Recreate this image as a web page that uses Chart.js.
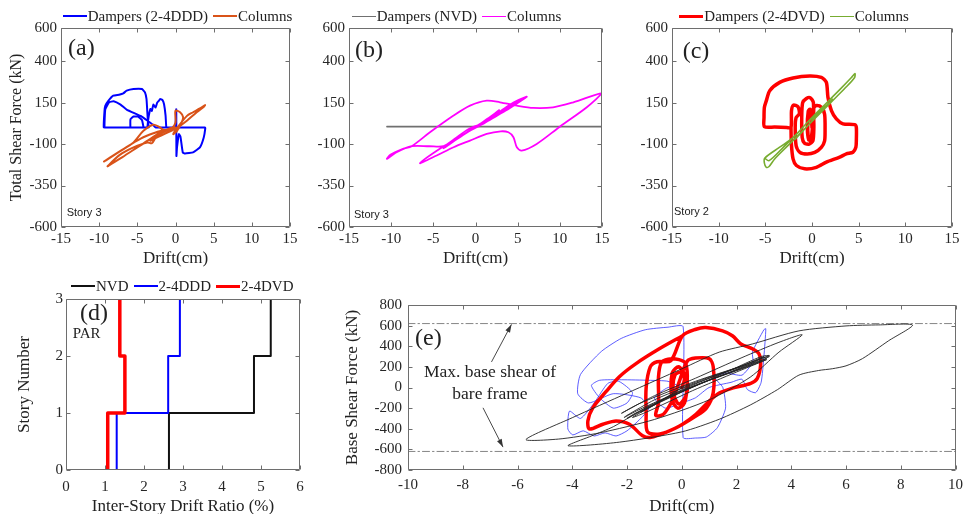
<!DOCTYPE html>
<html><head><meta charset="utf-8">
<script src="https://cdn.jsdelivr.net/npm/chart.js@4.4.1/dist/chart.umd.min.js"></script>
<style>
html,body{margin:0;padding:0;background:#fff;width:970px;height:514px;overflow:hidden;position:relative;}
canvas{position:absolute;}
.t{position:absolute;white-space:nowrap;color:#222;font-family:'Liberation Serif',serif;}
.legend{position:absolute;display:flex;align-items:center;font-family:'Liberation Serif',serif;font-size:15px;color:#222;height:20px;white-space:nowrap;}
.legend .item{display:flex;align-items:center;margin-right:5px;}
.legend .sw{display:inline-block;width:24px;height:0;margin-right:1px;}
</style></head><body>
<canvas id="ca" width="302" height="252" style="left:0px;top:15px"></canvas>
<canvas id="cb" width="305" height="252" style="left:309px;top:15px"></canvas>
<canvas id="cc" width="332" height="252" style="left:632px;top:15px"></canvas>
<canvas id="cd" width="312" height="228" style="left:0px;top:287px"></canvas>
<canvas id="ce" width="629" height="225" style="left:340px;top:290px"></canvas>
<script>
// ---------------- DATA ----------------
// Panels (a)-(c): drift (cm) vs total shear force (kN)
const driftTicksABC = [-15, -10, -5, 0, 5, 10, 15];
const forceTicksABC = [-600, -350, -100, 150, 400, 600];

// (a) Story 3 — Dampers (2-4DDD) and Columns
const aDampers = [[0,0],[0.05,60],[0.1,110],[0.12,-172],[0.2,-119],[0.45,-40],[0.65,-55],[0.95,-150],[1.25,-157],[2.3,-150],[3.2,-120],[3.7,-60],[3.9,-5],[3.85,0],[3.5,0],[-1.0,0],[-1.2,0],[-1.3,72],[-1.5,140],[-1.7,165],[-2.0,172],[-2.2,160],[-2.4,150],[-2.6,120],[-2.9,138],[-3.1,100],[-3.3,112],[-3.5,70],[-3.6,38],[-3.7,0],[-4.0,0],[-5.7,0],[-5.9,0],[-5.9,50],[-5.5,66],[-4.9,66],[-4.4,45],[-4.2,0],[-4.5,0],[-9.1,0],[-9.4,0],[-9.3,100],[-9.2,131],[-8.8,161],[-8.15,192],[-7.4,198],[-6.84,206],[-6.4,222],[-5.5,232],[-4.4,232],[-4.0,212],[-3.8,172],[-3.7,100],[-3.6,30],[-3.5,0],[-3.8,0],[-9.0,0],[-9.3,0],[-9.2,110],[-8.7,152],[-8.1,158],[-7.2,138],[-6.4,108],[-4.5,68],[-3.6,38],[-3.0,18],[-2.6,0],[-2.3,0],[0,0]];
const aColumns = [[0,0],[-1.2,-20],[-2.5,-55],[-3.1,-95],[-3.7,-90],[-5.5,-120],[-7.3,-165],[-8.9,-234],[-8.6,-225],[-7,-180],[-5,-120],[-3,-60],[-1.8,-20],[-2.6,-30],[-4.5,-65],[-7,-135],[-9.37,-205],[-9.1,-198],[-7.5,-150],[-5.5,-90],[-4.2,-20],[-2.9,17],[-2.2,5],[-1.5,-15],[-0.5,-5],[0,30],[0,101],[0.6,92],[1.0,62],[0.8,30],[0.2,-20],[-0.3,-40],[0.1,-10],[1.5,70],[2.3,92],[3.2,115],[3.87,135],[3.6,121],[2.6,85],[1.6,45],[0.6,10],[-1.0,-30],[-2.4,-60],[-3.3,-80],[-2.2,-40],[-0.8,-5],[0,0]];

// (b) Story 3 — Dampers (NVD) and Columns
const bDampers = [[-10.5,5],[15,5]];
const bColumns = [[0,0],[1.5,50],[3,100],[4.5,150],[6.07,186],[5.8,175],[4,115],[2.5,70],[1,25],[-0.5,-15],[-2,-60],[-3.5,-110],[-3.8,-125],[-3.2,-105],[-1.8,-55],[0,5],[1.3,45],[2.5,90],[2.8,105],[2.3,85],[0.8,30],[-1,-30],[-2.5,-80],[-4,-120],[-6.58,-215],[-4.6,-169],[-2.6,-119],[-0.65,-79],[1.33,-39],[3.0,-23],[3.9,-29],[4.5,-59],[4.9,-119],[5.48,-139],[7.26,-99],[10,5],[13.2,122],[14.97,206],[11.6,152],[9.2,122],[6.86,118],[4.9,132],[2.9,152],[1.33,162],[-0.65,132],[-2.6,72],[-5.4,-29],[-7.57,-113],[-8.6,-129],[-10.1,-165],[-10.5,-189],[-9.35,-149],[-7.57,-113],[-5.5,-113],[-3.8,-113],[-2.5,-70],[-1,-15],[0.5,20],[2,60],[3.5,110],[5,155],[5.5,165],[4,125],[1.5,55],[0,0]];

// (c) Story 2 — Dampers (2-4DVD) and Columns
const cDampers = [[0,0],[-0.1,70],[-0.3,90],[-0.45,40],[-0.4,-60],[-0.2,-80],[0,-50],[0.05,60],[-0.2,110],[-0.4,100],[-0.5,0],[-0.35,-75],[-0.1,-70],[0.1,40],[0.15,150],[-0.2,180],[-0.6,175],[-1.0,150],[-1.1,60],[-1.05,-60],[-0.8,-95],[-0.3,-100],[0.1,-80],[0.2,0],[0.2,120],[0.5,132],[1.0,122],[1.35,80],[1.4,-20],[1.35,-80],[1.0,-120],[0.3,-150],[-0.5,-160],[-1.3,-150],[-1.7,-110],[-1.8,0],[-1.7,60],[-1.35,82],[-1.5,125],[-2.0,135],[-2.2,100],[-2.25,0],[-2.7,0],[-4,3],[-5.1,5],[-5.14,60],[-5.1,122],[-4.89,162],[-4.53,222],[-3.46,272],[-2.03,299],[-0.25,311],[1.0,302],[1.54,272],[1.71,182],[2.08,102],[2.61,52],[3.32,22],[4.58,17],[4.75,0],[4.75,-79],[4.7,-119],[4.39,-149],[3.68,-159],[2.97,-179],[1.54,-209],[0.47,-240],[-0.78,-249],[-1.67,-229],[-2.03,-189],[-2.21,-99],[-2.25,0]];
const cColumns = [[-5.07,-185],[-4.6,-200],[-3,-115],[-1.5,-30],[0,60],[1.5,145],[3,230],[4.2,300],[4.6,325],[4.55,300],[3.5,235],[2,150],[0.5,65],[-1,-20],[-2.5,-105],[-4,-190],[-4.6,-235],[-4.9,-240],[-5.1,-215],[-5.07,-185],[-3.5,-120],[-2,-60],[-0.5,30],[1.5,130],[2.2,170],[1.2,110],[-0.3,20],[-1.8,-70],[-0.8,-10],[0.8,90],[0,40]];

// (d) PAR — peak inter-story drift ratio (%) per story
const storyLevels = [0, 1, 2, 3];
const driftNVD = [2.64, 4.82, 5.25];
const driftDDD = [1.30, 2.62, 2.92];
const driftDVD = [1.07, 1.51, 1.38];
const dDriftTicks = [0, 1, 2, 3, 4, 5, 6];
const dStoryTicks = [0, 1, 2, 3];

// (e) Base shear force (kN) vs roof drift (cm)
const eDriftTicks = [-10, -8, -6, -4, -2, 0, 2, 4, 6, 8, 10];
const eForceTicks = [-800, -600, -400, -200, 0, 200, 400, 600, 800];
const maxBaseShearBare = 620;
const eNVD = [[0,0],[1,100],[2,190],[3,290],[3.2,300],[2.9,265],[1.5,140],[0,-10],[-1,-120],[-2,-270],[-2.1,-290],[-1.6,-220],[0,-30],[1.5,120],[2.8,250],[3.1,280],[2.6,225],[0.8,50],[-0.8,-140],[-1.8,-290],[-1.3,-240],[0.4,-30],[2,150],[3.1,270],[2.4,200],[0.5,20],[-1.2,-180],[-2.5,-380],[-3.3,-470],[-4.15,-565],[-2.28,-530],[0,-430],[1.37,-308],[2.5,-170],[3.5,-20],[4.28,120],[5.0,165],[5.5,182],[6.0,210],[6.6,280],[7.56,454],[8.43,605],[7.2,607],[6.0,597],[4.28,549],[2.58,422],[1.37,343],[0,181],[-2,-55],[-4,-293],[-5.69,-504],[-4.5,-500],[-3,-440],[-1,-310],[1,-120],[2.5,100],[3.55,343],[4.4,511],[3.55,438],[2.2,290],[0.5,90],[-1,-80],[-2.2,-250],[-1.5,-150],[0.5,60],[2.2,210],[3.0,300],[2.6,240],[1,70],[-0.5,-100],[-1.7,-250],[-2.0,-300],[-1.4,-220],[0.2,-20],[1.8,170],[2.9,300],[3.2,310],[2.7,260],[1.2,110],[-0.3,-60],[-1.5,-240],[-1.0,-170],[0,0]];
const eDDD = [[0,0],[-0.5,60],[-1.2,70],[-2.2,75],[-3.0,70],[-3.3,20],[-3.0,-100],[-2.5,-200],[-2.0,-150],[-1.8,-50],[-2.3,60],[-2.7,40],[-3.2,-150],[-3.7,-300],[-4.1,-229],[-4.16,-403],[-3.98,-460],[-3.6,-420],[-3.2,-470],[-2.8,-440],[-2.4,-470],[-2.0,-420],[-1.5,-300],[-1.2,-200],[-1.5,-100],[-2.5,-60],[-3.4,-150],[-3.8,-60],[-3.7,126],[-2.94,349],[-2.21,476],[-1.33,560],[-0.5,585],[0.05,590],[0.05,-485],[0.5,-490],[0.9,-480],[1.3,-390],[1.6,-200],[1.5,0],[1.2,100],[1.6,140],[2.2,120],[2.6,250],[2.58,343],[3.0,560],[3.07,570],[3.0,300],[2.9,50],[2.7,-50],[2.4,-20],[2.2,80],[1.8,50],[1.0,0],[0.5,-100],[0,-150],[-0.6,-200],[-1,-100],[-0.5,0],[0,0]];
const eDVD = [[0,0],[0.1,80],[0,150],[-0.25,120],[-0.3,-60],[-0.1,-160],[0.15,-80],[0.2,60],[-0.1,200],[-0.35,140],[-0.35,-120],[-0.15,-200],[0.1,-150],[0.2,50],[0.15,230],[-0.1,270],[-0.5,275],[-0.75,240],[-0.85,100],[-0.85,-150],[-0.95,-270],[-0.7,-265],[-0.5,-200],[-0.3,-100],[-0.1,50],[0.2,255],[0.5,285],[1.0,280],[1.15,200],[1.15,-50],[0.9,-200],[0.5,-280],[-0.2,-390],[-0.8,-450],[-1.25,-430],[-1.3,-250],[-1.3,0],[-1.15,200],[-0.9,250],[-0.4,260],[0.03,502],[0.52,565],[0.88,581],[1.49,549],[1.85,502],[2.16,422],[2.58,375],[2.82,327],[2.88,216],[2.76,89],[2.52,41],[1.85,-6],[1.37,-54],[1.0,-133],[0.52,-260],[0.03,-356],[-0.58,-435],[-1.12,-483],[-1.43,-467],[-1.91,-356],[-2.4,-324],[-2.88,-356],[-3.37,-403],[-3.43,-324],[-3.25,-197],[-2.76,-38],[-2.28,105],[-1.67,232],[-0.82,375],[0.03,502]];
// annotation arrows (data coordinates: drift, force)
const eArrows = [{from:[-6.95,248], to:[-6.22,612]}, {from:[-7.26,-197], to:[-6.53,-578]}];

// ---------------- HELPERS ----------------
const pts = arr => arr.map(([x, y]) => ({x, y}));
const stairs = drifts => drifts.flatMap((v, i) => [{x: v, y: storyLevels[i]}, {x: v, y: storyLevels[i + 1]}]);
const SERIF = "'Liberation Serif', 'Times New Roman', serif";

const boxPlugin = {
  id: 'mbox',
  afterDatasetsDraw(chart) {
    const {ctx, chartArea: a, scales} = chart;
    const L = Math.round(a.left) + 0.5, R = Math.round(a.right) - 0.5, T = Math.round(a.top) + 0.5, B = Math.round(a.bottom) - 0.5;
    ctx.save();
    ctx.strokeStyle = '#6e6e6e';
    ctx.lineWidth = 1;
    ctx.beginPath();
    ctx.rect(L, T, R - L, B - T);
    const tl = 4;
    scales.x.ticks.forEach(t => {
      const px = Math.round(scales.x.getPixelForValue(t.value)) + 0.5;
      ctx.moveTo(px, B); ctx.lineTo(px, B - tl);
      ctx.moveTo(px, T); ctx.lineTo(px, T + tl);
    });
    scales.y.ticks.forEach(t => {
      const py = Math.round(scales.y.getPixelForValue(t.value)) + 0.5;
      ctx.moveTo(L, py); ctx.lineTo(L + tl, py);
      ctx.moveTo(R, py); ctx.lineTo(R - tl, py);
    });
    ctx.stroke();
    ctx.restore();
  }
};

function arrowPlugin(items) {
  return {
    id: 'arrows',
    afterDatasetsDraw(chart) {
      const {ctx, scales: {x, y}} = chart;
      ctx.save();
      ctx.strokeStyle = '#333'; ctx.fillStyle = '#333'; ctx.lineWidth = 0.9;
      items.forEach(a => {
        const x1 = x.getPixelForValue(a.from[0]), y1 = y.getPixelForValue(a.from[1]);
        const x2 = x.getPixelForValue(a.to[0]), y2 = y.getPixelForValue(a.to[1]);
        ctx.beginPath(); ctx.moveTo(x1, y1); ctx.lineTo(x2, y2); ctx.stroke();
        const ang = Math.atan2(y2 - y1, x2 - x1), h = 8, w = 2.6;
        ctx.beginPath(); ctx.moveTo(x2, y2);
        ctx.lineTo(x2 - h * Math.cos(ang) + w * Math.sin(ang), y2 - h * Math.sin(ang) - w * Math.cos(ang));
        ctx.lineTo(x2 - h * Math.cos(ang) - w * Math.sin(ang), y2 - h * Math.sin(ang) + w * Math.cos(ang));
        ctx.closePath(); ctx.fill();
      });
      ctx.restore();
    }
  };
}

function makeChart(id, c) {
  const plugins = [boxPlugin];
  if (c.arrows) plugins.push(arrowPlugin(c.arrows));
  return new Chart(document.getElementById(id), {
    type: 'scatter',
    data: {datasets: c.datasets},
    options: {
      responsive: false, animation: false, events: [],
      layout: {padding: {top: 12, right: 12, bottom: 0, left: 0}},
      plugins: {legend: {display: false}, tooltip: {enabled: false}},
      elements: {point: {radius: 0, hoverRadius: 0}, line: {borderCapStyle: 'round', borderJoinStyle: 'round'}},
      scales: {
        x: {
          type: 'linear', min: c.xr[0], max: c.xr[1],
          grid: {display: false, drawTicks: false}, border: {display: false},
          afterBuildTicks: s => { s.ticks = c.xTicks.map(v => ({value: v})); },
          afterFit: s => { s.height = c.xH; },
          ticks: {autoSkip: false, maxRotation: 0, minRotation: 0, padding: c.xPad, color: '#262626',
                  font: {family: SERIF, size: 15}, callback: v => String(v)},
          title: {display: !!c.xTitle, text: c.xTitle || '', color: '#222',
                  font: {family: SERIF, size: 17, lineHeight: 1}, padding: {top: 0, bottom: 0}}
        },
        y: {
          type: 'linear', min: c.yr[0], max: c.yr[1],
          grid: {display: false, drawTicks: false}, border: {display: false},
          afterBuildTicks: s => { s.ticks = c.yTicks.map(v => ({value: v})); },
          afterFit: s => { s.width = c.yW; },
          ticks: {autoSkip: false, padding: c.yPad, color: '#262626',
                  font: {family: SERIF, size: 15}, callback: v => String(v)},
          title: {display: !!c.yTitle, text: c.yTitle || '', color: '#222',
                  font: {family: SERIF, size: c.yTitleSize || 17, lineHeight: 1}, padding: {top: c.yTitlePad || 0, bottom: 0}}
        }
      }
    },
    plugins
  });
}

const line = (label, data, color, width, order, tension, extra) => Object.assign({
  label, data, borderColor: color, backgroundColor: color, borderWidth: width,
  showLine: true, pointRadius: 0, tension, order, fill: false
}, extra || {});

// ---------------- CHARTS ----------------
const chA = makeChart('ca', {
  datasets: [line('Dampers (2-4DDD)', pts(aDampers), '#0000ff', 2, 1, 0.12),
             line('Columns', pts(aColumns), '#d95319', 2, 0, 0.3)],
  xr: [-15, 15], yr: [-600, 600], xTicks: driftTicksABC, yTicks: forceTicksABC,
  yW: 61, xH: 40, xPad: 3.5, yPad: 4, xTitle: 'Drift(cm)', yTitle: 'Total Shear Force (kN)', yTitleSize: 16, yTitlePad: 9
});
const chB = makeChart('cb', {
  datasets: [line('Dampers (NVD)', pts(bDampers), '#707070', 1.6, 1, 0),
             line('Columns', pts(bColumns), '#ff00ff', 1.8, 0, 0.3)],
  xr: [-15, 15], yr: [-600, 600], xTicks: driftTicksABC, yTicks: forceTicksABC,
  yW: 40, xH: 40, xPad: 3.5, yPad: 4, xTitle: 'Drift(cm)'
});
const chC = makeChart('cc', {
  datasets: [line('Dampers (2-4DVD)', pts(cDampers), '#ff0000', 3.5, 1, 0.25),
             line('Columns', pts(cColumns), '#77ac30', 1.6, 0, 0.3)],
  xr: [-15, 15], yr: [-600, 600], xTicks: driftTicksABC, yTicks: forceTicksABC,
  yW: 40, xH: 40, xPad: 3.5, yPad: 4, xTitle: 'Drift(cm)'
});
const chD = makeChart('cd', {
  datasets: [line('NVD', stairs(driftNVD), '#111111', 2, 2, 0),
             line('2-4DDD', stairs(driftDDD), '#0000ff', 2, 1, 0),
             line('2-4DVD', stairs(driftDVD), '#ff0000', 3.5, 0, 0)],
  xr: [0, 6], yr: [0, 3], xTicks: dDriftTicks, yTicks: dStoryTicks,
  yW: 66, xH: 45, xPad: 7.7, yPad: 3, xTitle: 'Inter-Story Drift Ratio (%)', yTitle: 'Story Number', yTitlePad: 16.5
});
const chE = makeChart('ce', {
  datasets: [line('NVD', pts(eNVD), '#222222', 0.9, 0, 0.25),
             line('2-4DVD', pts(eDVD), '#ff0000', 3.5, 1, 0.3),
             line('2-4DDD', pts(eDDD), '#3535ff', 0.8, 2, 0.2),
             line('Max. base shear (+)', [{x: -10, y: maxBaseShearBare}, {x: 10, y: maxBaseShearBare}], '#777777', 0.9, 3, 0, {borderDash: [7, 3, 1.5, 3], noLegend: true}),
             line('Max. base shear (-)', [{x: -10, y: -maxBaseShearBare}, {x: 10, y: -maxBaseShearBare}], '#777777', 0.9, 3, 0, {borderDash: [7, 3, 1.5, 3], noLegend: true})],
  xr: [-10, 10], yr: [-800, 800], xTicks: eDriftTicks, yTicks: eForceTicks,
  yW: 68, xH: 45, xPad: 6, yPad: 6, xTitle: 'Drift(cm)', yTitle: 'Base Shear Force (kN)', yTitlePad: 4.2,
  arrows: eArrows
});

// ---------------- HTML legends & labels ----------------
function htmlLegend(chart, left, cy) {
  const div = document.createElement('div');
  div.className = 'legend';
  div.style.left = left + 'px';
  div.style.top = (cy - 10) + 'px';
  chart.data.datasets.filter(d => !d.noLegend).forEach(d => {
    const item = document.createElement('span'); item.className = 'item';
    const sw = document.createElement('span'); sw.className = 'sw';
    sw.style.borderTop = d.borderWidth + 'px solid ' + d.borderColor;
    const tx = document.createElement('span'); tx.textContent = d.label;
    item.appendChild(sw); item.appendChild(tx); div.appendChild(item);
  });
  document.body.appendChild(div);
}
htmlLegend(chA, 62.7, 16.2);
htmlLegend(chB, 351.7, 16.5);
htmlLegend(chC, 679.3, 16);
htmlLegend(chD, 71, 286.2);

function label(text, left, cy, size, family, extra) {
  const d = document.createElement('div');
  d.className = 't';
  d.textContent = text;
  d.style.left = left + 'px';
  d.style.fontSize = size + 'px';
  d.style.lineHeight = (size * 1.2) + 'px';
  d.style.top = (cy - size * 0.64) + 'px';
  if (family) d.style.fontFamily = family;
  if (extra) Object.assign(d.style, extra);
  document.body.appendChild(d);
  return d;
}
const SANS = "'Liberation Sans', Arial, sans-serif";
label('(a)', 68, 48, 24);
label('(b)', 355, 50, 24);
label('(c)', 682.7, 51, 24);
label('(d)', 80, 313.3, 24);
label('(e)', 415, 338.3, 24);
label('PAR', 72.7, 333.3, 15);
label('Story 3', 66.7, 213.5, 11, SANS);
label('Story 3', 354, 215, 11, SANS);
label('Story 2', 674, 212.5, 11, SANS);
const ann = document.createElement('div');
ann.className = 't';
ann.style.cssText = 'left:490px;top:359.5px;transform:translateX(-50%);text-align:center;font-size:17.5px;line-height:22.6px;';
ann.innerHTML = 'Max. base shear of<br>bare frame';
document.body.appendChild(ann);
</script>
</body></html>
